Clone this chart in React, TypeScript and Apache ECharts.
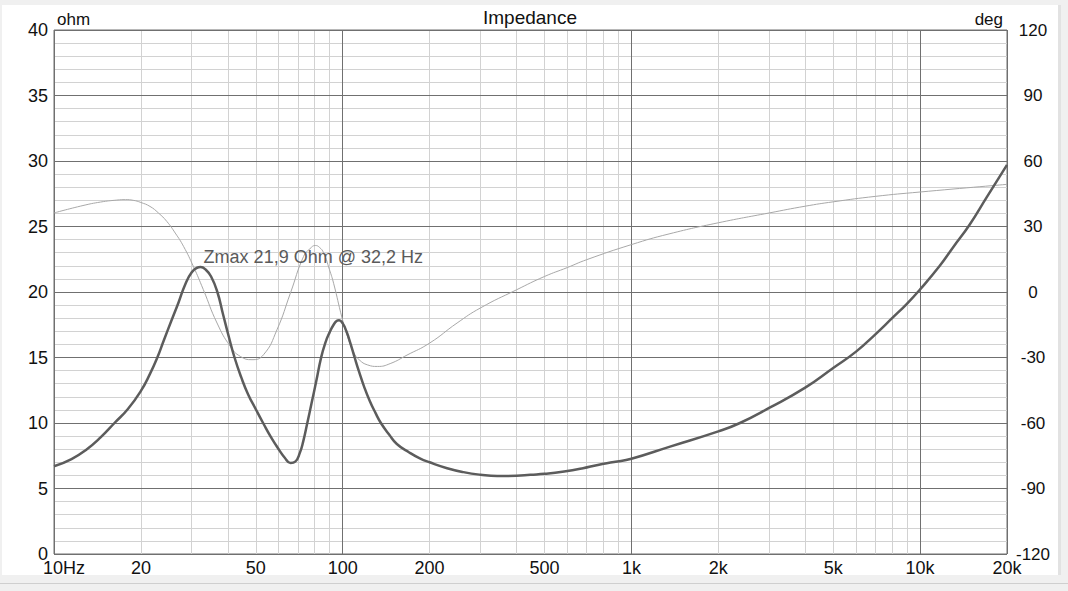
import React, { useEffect, useRef } from "react";
import * as echarts from "echarts";

// Impedance magnitude (ohm)
const impFreq = [10, 11.5, 13, 14.5, 16.2, 18, 20, 21.5, 22.8, 24, 25.5, 27, 28.5, 30, 31.3, 32.2, 33.5, 35, 36.8, 38.5, 40.3, 42.2, 44.5, 47, 50, 53, 56.5, 60, 63, 66, 68.5, 71, 73, 75.4, 78, 81, 84.2, 87, 90, 93, 95.5, 97.2, 100, 103, 106.3, 110, 114, 118.5, 124, 130, 135.6, 145, 154, 170, 185, 200, 230, 262, 300, 343, 400, 447, 500, 585, 680, 765, 870, 1000, 1361, 2000, 2377, 3000, 4000, 5000, 6000, 7000, 8000, 9000, 10000, 11700, 13000, 14860, 16980, 20000];
const impOhm = [6.7, 7.25, 8.0, 8.9, 10.0, 11.05, 12.45, 13.75, 15.0, 16.3, 17.8, 19.2, 20.6, 21.5, 21.85, 21.9, 21.72, 21.18, 20.0, 18.3, 16.6, 15.0, 13.5, 12.2, 11.05, 10.0, 8.9, 8.0, 7.35, 6.95, 7.05, 7.7, 8.6, 10.0, 11.5, 13.2, 15.0, 16.1, 16.9, 17.5, 17.8, 17.85, 17.6, 17.0, 16.1, 15.0, 13.9, 12.8, 11.7, 10.75, 10.0, 9.1, 8.4, 7.75, 7.3, 7.0, 6.55, 6.25, 6.05, 5.95, 5.97, 6.05, 6.12, 6.3, 6.55, 6.8, 7.02, 7.27, 8.2, 9.36, 10.0, 11.15, 12.7, 14.2, 15.45, 16.77, 18.0, 19.1, 20.2, 22.0, 23.4, 25.15, 27.2, 29.7];

// Phase (deg)
const phaseFreq = [10, 12.6, 14.5, 16.5, 17.7, 18.8, 20, 21.5, 23, 24.6, 26.3, 28.1, 30.4, 32.9, 36.7, 40.8, 44.2, 48.5, 53.2, 59.2, 65.9, 73.2, 77, 80.4, 83, 85.9, 90, 93, 99.5, 104, 109, 114, 122, 132, 146, 167, 200, 249, 300, 400, 500, 600, 700, 1000, 1350, 2000, 3000, 4000, 5000, 7000, 10000, 20000];
const phaseDeg = [36.2, 39.6, 41.2, 42.1, 42.3, 42.0, 41.0, 39.2, 36.2, 32.3, 27.0, 20.9, 11.7, 1.1, -14.2, -24.9, -29.5, -31, -28.7, -17.3, -0.5, 16.3, 19.8, 21.3, 20.5, 17.9, 10.2, 4.0, -11.9, -20.5, -27.5, -31.0, -33.4, -34.1, -32.8, -28.9, -23.4, -14.2, -7.3, 1.0, 7.1, 11.2, 14.8, 21.7, 26.6, 31.7, 36.2, 39.3, 41.3, 43.8, 45.8, 49.3];

// Axis ticks and labels
const xMajorTicks = [10, 100, 1000, 10000, 20000];
const xMinorTicks = [20, 30, 40, 50, 60, 70, 80, 90, 200, 300, 400, 500, 600, 700, 800, 900, 2000, 3000, 4000, 5000, 6000, 7000, 8000, 9000];
const xLabelValues = [10, 20, 50, 100, 200, 500, 1000, 2000, 5000, 10000, 20000];
const xLabelTexts = ["10Hz", "20", "50", "100", "200", "500", "1k", "2k", "5k", "10k", "20k"];

const zmaxFreq = 32.2;
const zmaxOhm = 21.9;
const zmaxText = "Zmax 21,9 Ohm @ 32,2 Hz";

const FONT = "'Liberation Sans', Arial, sans-serif";
const DARK = "#707070";
const LIGHT = "#d2d2d2";

export default function App() {
  const ref = useRef<HTMLDivElement>(null);

  useEffect(() => {
    if (!ref.current) return;
    const chart = echarts.init(ref.current, undefined, { renderer: "svg" });

    const labelFor = (v: number) => {
      let best = 0;
      let bestD = Infinity;
      xLabelValues.forEach((lv, i) => {
        const d = Math.abs(Math.log10(v) - Math.log10(lv));
        if (d < bestD) {
          bestD = d;
          best = i;
        }
      });
      const t = xLabelTexts[best];
      return best === 0 ? "{first|" + t + "}" : t;
    };

    const option: any = {
      animation: false,
      textStyle: { fontFamily: FONT },
      title: {
        text: "Impedance",
        left: 483,
        top: 8,
        padding: 0,
        textStyle: { fontSize: 19, fontWeight: "normal", color: "#111", fontFamily: FONT },
      },
      grid: {
        left: 54,
        right: 61,
        top: 30,
        bottom: 37,
        containLabel: false,
        outerBoundsMode: "none",
        show: true,
        backgroundColor: "#ffffff",
        borderColor: DARK,
        borderWidth: 1,
      },
      xAxis: [
        {
          type: "log",
          logBase: 10,
          min: 10,
          max: 20000,
          position: "bottom",
          z: 1,
          axisLine: { show: false },
          axisTick: { show: false, customValues: xMinorTicks },
          axisLabel: { show: false },
          splitLine: { show: true, lineStyle: { color: LIGHT, width: 1 } },
        },
        {
          type: "log",
          logBase: 10,
          min: 10,
          max: 20000,
          position: "bottom",
          z: 3,
          axisLine: { show: false },
          axisTick: { show: false, customValues: xMajorTicks },
          axisLabel: {
            show: true,
            customValues: xLabelValues,
            formatter: labelFor,
            fontSize: 18,
            color: "#111",
            margin: 5,
            fontFamily: FONT,
            rich: {
              first: { fontSize: 18, color: "#111", padding: [0, 0, 0, 20], fontFamily: FONT },
            },
          },
          splitLine: { show: true, lineStyle: { color: DARK, width: 1 } },
        },
      ],
      yAxis: [
        {
          type: "value",
          min: 0,
          max: 40,
          interval: 5,
          z: 2,
          name: "ohm",
          nameLocation: "end",
          nameGap: 11,
          nameTextStyle: {
            fontSize: 17,
            color: "#111",
            align: "left",
            verticalAlign: "middle",
            padding: [0, 0, 0, 3],
            fontFamily: FONT,
          },
          axisLine: { show: false },
          axisTick: { show: false },
          axisLabel: { fontSize: 18, color: "#111", margin: 6, fontFamily: FONT },
          splitLine: { show: true, lineStyle: { color: DARK, width: 1 } },
          minorTick: { show: false, splitNumber: 5 },
          minorSplitLine: { show: true, lineStyle: { color: LIGHT, width: 1 } },
        },
        {
          type: "value",
          min: -120,
          max: 120,
          interval: 30,
          position: "right",
          name: "deg",
          nameLocation: "end",
          nameGap: 11,
          nameTextStyle: {
            fontSize: 17,
            color: "#111",
            align: "right",
            verticalAlign: "middle",
            padding: [0, 4, 0, 0],
            fontFamily: FONT,
          },
          axisLine: { show: false },
          axisTick: { show: false },
          axisLabel: { fontSize: 17, color: "#111", margin: 26, align: "center", fontFamily: FONT },
          splitLine: { show: false },
        },
      ],
      series: [
        {
          name: "Phase",
          type: "line",
          xAxisIndex: 1,
          yAxisIndex: 1,
          data: phaseFreq.map((f, i) => [f, phaseDeg[i]]),
          showSymbol: false,
          smooth: 0.5,
          z: 4,
          lineStyle: { color: "#a8a8a8", width: 1 },
        },
        {
          name: "Impedance",
          type: "line",
          xAxisIndex: 1,
          yAxisIndex: 0,
          data: impFreq.map((f, i) => [f, impOhm[i]]),
          showSymbol: false,
          smooth: 0.5,
          z: 5,
          lineStyle: { color: "#5c5c5c", width: 2.5 },
          markPoint: {
            symbol: "circle",
            symbolSize: 0,
            data: [{ coord: [zmaxFreq, zmaxOhm] }],
            label: {
              show: true,
              formatter: zmaxText,
              position: [3, -10],
              align: "left",
              verticalAlign: "middle",
              fontSize: 18,
              color: "#5a5a5a",
              fontFamily: FONT,
            },
          },
        },
      ],
    };

    chart.setOption(option);
    return () => chart.dispose();
  }, []);

  return (
    <div style={{ position: "fixed", left: 0, top: 0, width: 1068, height: 591, background: "#f0f0f0", overflow: "hidden" }}>
      <div style={{ position: "absolute", left: 2, top: 5, width: 1056, height: 570, background: "#ffffff" }} />
      <div style={{ position: "absolute", left: 1058, top: 5, width: 3, height: 570, background: "#e2e2e2" }} />
      <div style={{ position: "absolute", left: 0, top: 583, width: 1068, height: 1, background: "#cfcfcf" }} />
      <div ref={ref} style={{ position: "absolute", left: 0, top: 0, width: 1068, height: 591 }} />
    </div>
  );
}
